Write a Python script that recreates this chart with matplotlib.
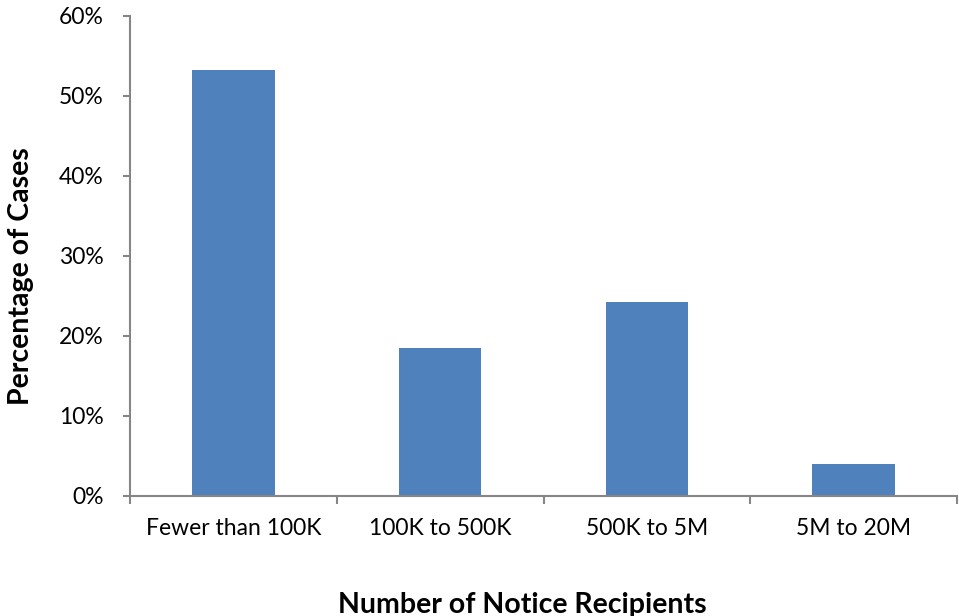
import matplotlib
matplotlib.use("Agg")
import matplotlib.pyplot as plt
from matplotlib.ticker import FuncFormatter, MultipleLocator

categories = ["Fewer than 100K", "100K to 500K", "500K to 5M", "5M to 20M"]
percentages = [53.3, 18.5, 24.2, 4.0]

plt.rcParams["font.family"] = ["Lato", "DejaVu Sans"]

fig = plt.figure(figsize=(9.59, 6.16), dpi=100)
ax = fig.add_axes([130 / 959, 120.5 / 616, 827 / 959, 479.5 / 616])

x = list(range(len(categories)))
ax.bar(x, percentages, width=0.4, color="#4F81BD", zorder=2)

ax.set_xlim(-0.5, len(categories) - 0.5)
ax.set_ylim(0, 60)
ax.yaxis.set_major_locator(MultipleLocator(10))
ax.yaxis.set_major_formatter(FuncFormatter(lambda v, pos: "%d%%" % v))

# category labels centred, ticks at the boundaries
ax.set_xticks([i - 0.5 for i in range(len(categories) + 1)])
ax.set_xticklabels([])
ax.set_xticks(x, minor=True)
ax.set_xticklabels(categories, minor=True)
ax.tick_params(axis="x", which="minor", length=0, pad=16, labelsize=16.5)
ax.tick_params(axis="x", which="major", length=6, width=1.5, color="#868686")
ax.tick_params(axis="y", length=5, width=1.5, color="#868686", labelsize=16.5, pad=14)

for side in ["top", "right"]:
    ax.spines[side].set_visible(False)
for side in ["left", "bottom"]:
    ax.spines[side].set_color("#868686")
    ax.spines[side].set_linewidth(1.5)

ax.set_xlabel("Number of Notice Recipients", fontsize=20.5, fontweight="bold", labelpad=38)
ax.set_ylabel("Percentage of Cases", fontsize=20.5, fontweight="bold", labelpad=18)
ax.xaxis.label.set_x(0.474)
ax.yaxis.label.set_y(0.458)

fig.savefig("out.png", dpi=100)
